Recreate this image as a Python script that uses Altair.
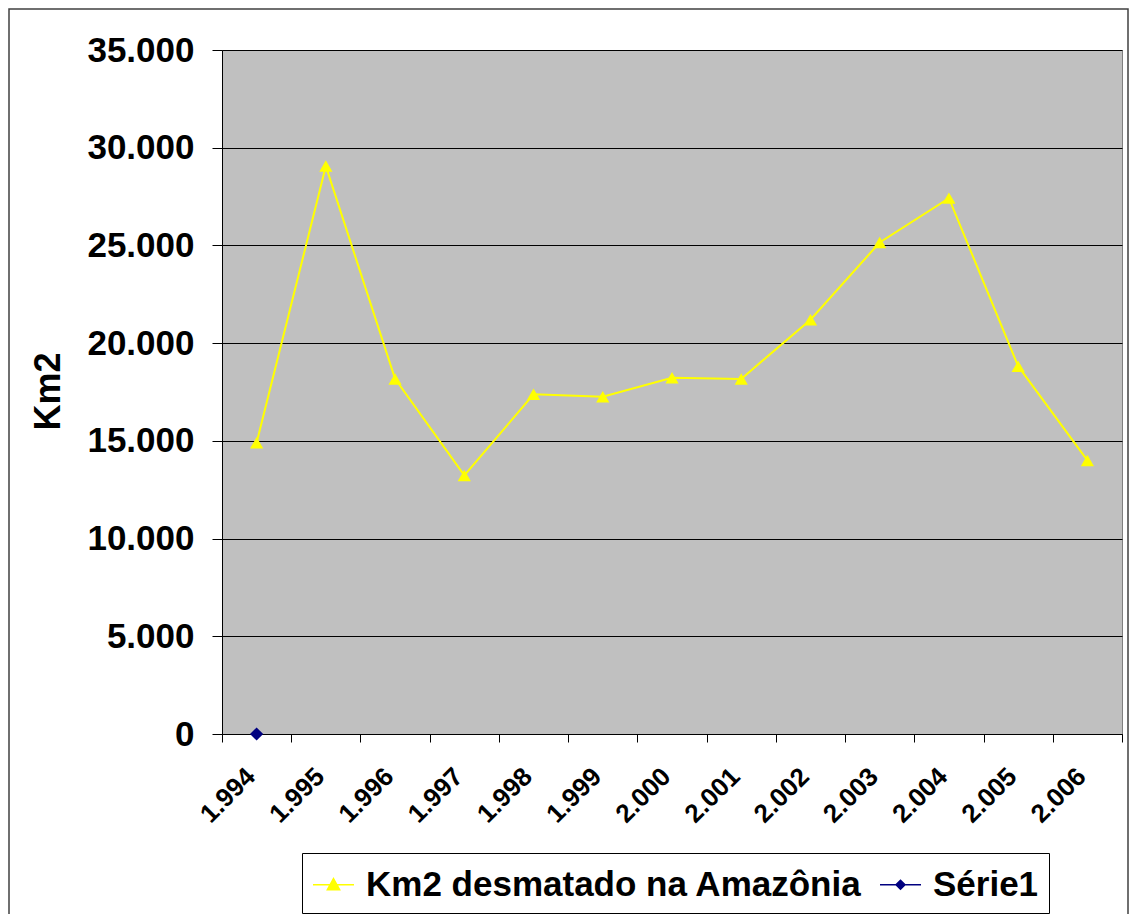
import altair as alt
import pandas as pd

# ---- data ----
years = ["1.994", "1.995", "1.996", "1.997", "1.998", "1.999", "2.000",
         "2.001", "2.002", "2.003", "2.004", "2.005", "2.006"]
km2 = [14900, 29060, 18170, 13230, 17380, 17260, 18230,
       18170, 21200, 25150, 27420, 18820, 14000]
serie1_years = ["1.994"]
serie1_values = [0]
series_names = ["Km2 desmatado na Amazônia", "Série1"]
series_colors = ["#FFFF00", "#000080"]
y_ticks = [0, 5000, 10000, 15000, 20000, 25000, 30000, 35000]

FONT = "Liberation Sans"

main = pd.DataFrame({"ano": years, "valor": km2, "serie": series_names[0]})
s1 = pd.DataFrame({"ano": serie1_years, "valor": serie1_values, "serie": series_names[1]})
df = pd.concat([main, s1], ignore_index=True)

x_enc = alt.X(
    "ano:O", sort=years,
    scale=alt.Scale(type="band", domain=years, paddingInner=0, paddingOuter=0),
    axis=alt.Axis(title=None, tickBand="extent", labelAngle=315, labelAlign="right",
                  labelBaseline="middle", labelFont=FONT, labelFontSize=26,
                  labelFontWeight="bold", labelColor="black", labelPadding=30,
                  labelOffset=-6,
                  tickSize=8, tickColor="black", domainColor="black", grid=False),
)
y_enc = alt.Y(
    "valor:Q",
    scale=alt.Scale(domain=[0, 35000], nice=False, zero=True),
    axis=alt.Axis(title="Km2", values=y_ticks,
                  labelExpr="replace(format(datum.value, ','), ',', '.')",
                  labelFont=FONT, labelFontSize=35, labelFontWeight="bold",
                  labelColor="black", labelPadding=18, tickSize=10, tickColor="black",
                  domainColor="black", gridColor="black", gridWidth=1,
                  titleFont=FONT, titleFontSize=36, titleFontWeight="bold",
                  titleColor="black", titleAngle=270, titleX=-174, titleY=341,
                  titleAlign="center", titleBaseline="middle"),
)

line = alt.Chart(main).mark_line(color=series_colors[0], strokeWidth=2).encode(x=x_enc, y=y_enc)

markers = alt.Chart(df).mark_point(filled=True, opacity=1, size=175).encode(
    x=x_enc, y=y_enc,
    shape=alt.Shape("serie:N", scale=alt.Scale(domain=series_names, range=["triangle-up", "diamond"]), legend=None),
    color=alt.Color("serie:N", scale=alt.Scale(domain=series_names, range=series_colors), legend=None),
)

tri_path = "M-1,0L1,0M0,-0.3L0.3,0.24L-0.3,0.24Z"
dia_path = "M-1,0L1,0M0,-0.22L0.22,0L0,0.22L-0.22,0Z"

legend_layer = alt.Chart(df).mark_point(opacity=0, filled=True).encode(
    x=x_enc, y=y_enc,
    shape=alt.Shape("serie:N", scale=alt.Scale(domain=series_names, range=[tri_path, dia_path]),
                    legend=alt.Legend(title=None, orient="none", legendX=80, legendY=803,
                                      direction="horizontal", strokeColor="black",
                                      fillColor="white", padding=10,
                                      labelFont=FONT, labelFontSize=35, labelFontWeight="bold",
                                      labelColor="black", labelLimit=0, labelOffset=11,
                                      columnPadding=15, symbolSize=1681, symbolOpacity=1,
                                      symbolStrokeWidth=1.5)),
    fill=alt.Fill("serie:N", scale=alt.Scale(domain=series_names, range=series_colors)),
    stroke=alt.Stroke("serie:N", scale=alt.Scale(domain=series_names, range=series_colors)),
)

border = alt.Chart(pd.DataFrame({"o": [0]})).mark_rect(
    fill="white", fillOpacity=0, stroke="#404040", strokeWidth=1.5
).encode(x=alt.value(-213), x2=alt.value(906), y=alt.value(-41), y2=alt.value(900))

chart = alt.layer(border, line, markers, legend_layer).resolve_scale(
    shape="independent", color="independent", fill="independent", stroke="independent"
).properties(
    width=900, height=684,
    background="white",
    autosize=alt.AutoSizeParams(type="none"),
    padding={"left": 214, "top": 42, "right": 8, "bottom": 180},
).configure_view(fill="#C0C0C0", stroke="#808080")

chart.save("out.html", embed_options={"renderer": "svg", "actions": False})
